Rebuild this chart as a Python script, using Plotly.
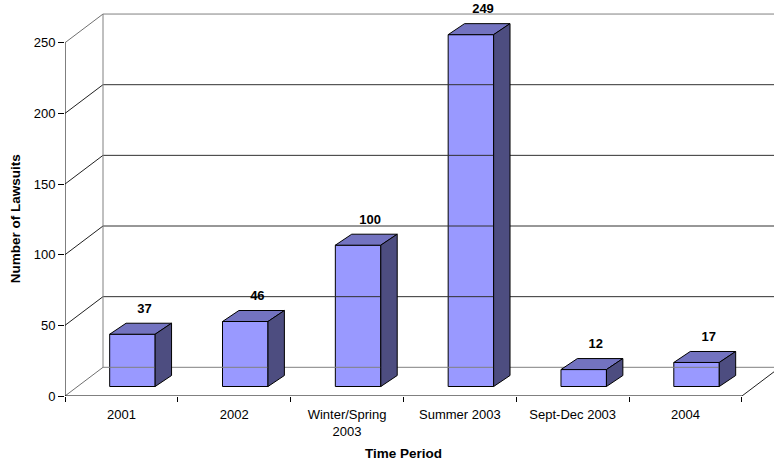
import plotly.graph_objects as go

# ---- data ----
categories = ["2001", "2002", "Winter/Spring<br>2003", "Summer 2003", "Sept-Dec 2003", "2004"]
lawsuits = [37, 46, 100, 249, 12, 17]
y_ticks = [0, 50, 100, 150, 200, 250]

# ---- oblique projection parameters (in data units) ----
WALL_DX, WALL_DY = 0.3368, 20.3      # depth of the whole chart box
FRONT_DX, FRONT_DY = 0.0975, 6.72    # offset of bar front face from front edge
BAR_DX, BAR_DY = 0.1454, 7.78        # bar depth
BAR_W = 0.403
N = len(categories)
YMAX = 250

FRONT = "#9999FF"
TOP = "#7373C0"
SIDE = "#4D4D80"
FONT = "Liberation Sans, Arial, sans-serif"

fig = go.Figure()

def line(xs, ys, color, width=1):
    fig.add_trace(go.Scatter(x=xs, y=ys, mode="lines", line=dict(color=color, width=width),
                             hoverinfo="skip", showlegend=False))

# back wall gridlines and left wall diagonals
for v in y_ticks:
    c = "#808080" if v in (0, YMAX) else "#303030"
    line([WALL_DX, N + WALL_DX], [v + WALL_DY, v + WALL_DY], c)
    line([0, WALL_DX], [v, v + WALL_DY], "#202020" if v not in (0, YMAX) else "#707070")
line([WALL_DX, WALL_DX], [WALL_DY, YMAX + WALL_DY], "#808080")
# floor right edge
line([N, N + WALL_DX], [0, WALL_DY], "#202020")

# bars: front faces
xc = [i + 0.5 + FRONT_DX for i in range(N)]
fig.add_trace(go.Bar(x=xc, y=lawsuits, base=[FRONT_DY] * N, width=BAR_W,
                     marker=dict(color=FRONT, line=dict(color="black", width=1)),
                     hoverinfo="skip", showlegend=False))

# bars: top and side faces
for i, v in enumerate(lawsuits):
    x0 = xc[i] - BAR_W / 2
    x1 = xc[i] + BAR_W / 2
    top = FRONT_DY + v
    fig.add_trace(go.Scatter(
        x=[x0, x1, x1 + BAR_DX, x0 + BAR_DX, x0],
        y=[top, top, top + BAR_DY, top + BAR_DY, top],
        mode="lines", fill="toself", fillcolor=TOP,
        line=dict(color="black", width=1), hoverinfo="skip", showlegend=False))
    fig.add_trace(go.Scatter(
        x=[x1, x1 + BAR_DX, x1 + BAR_DX, x1, x1],
        y=[FRONT_DY, FRONT_DY + BAR_DY, top + BAR_DY, top, FRONT_DY],
        mode="lines", fill="toself", fillcolor=SIDE,
        line=dict(color="black", width=1), hoverinfo="skip", showlegend=False))

# value labels
fig.add_trace(go.Scatter(
    x=[i + 0.5 + 0.205 for i in range(N)], y=[v + 24 for v in lawsuits],
    mode="text", text=[f"<b>{v}</b>" for v in lawsuits],
    textfont=dict(family=FONT, size=13, color="black"),
    cliponaxis=False, hoverinfo="skip", showlegend=False))

# front axis lines
line([0, 0], [0, YMAX], "black")
line([0, N], [0, 0], "black")

XR = [0, 6.284]
YR = [0, 276.7]

fig.update_layout(
    width=774, height=461,
    margin=dict(l=65, r=0, t=5, b=65),
    plot_bgcolor="white", paper_bgcolor="white",
    font=dict(family=FONT, size=13, color="black"),
    barmode="overlay",
    xaxis=dict(range=XR, tickvals=[i + 0.5 for i in range(N)], ticktext=categories,
               ticks="outside", ticklen=6, tickcolor="rgba(0,0,0,0)",
               showgrid=False, zeroline=False, showline=False,
               tickfont=dict(family=FONT, size=13)),
    xaxis2=dict(range=XR, overlaying="x", anchor="y", side="bottom",
                tickvals=list(range(N + 1)), ticktext=[""] * (N + 1),
                ticks="outside", ticklen=5, tickcolor="black",
                showgrid=False, zeroline=False, showline=False),
    yaxis=dict(range=YR, tickvals=y_ticks, ticks="outside", ticklen=6, tickcolor="black",
               showgrid=False, zeroline=False, showline=False,
               tickfont=dict(family=FONT, size=13)),
    annotations=[
        dict(text="<b>Time Period</b>", x=3, xref="x", y=0, yref="paper",
             yanchor="middle", yshift=-57, showarrow=False,
             font=dict(family=FONT, size=13.5)),
        dict(text="<b>Number of Lawsuits</b>", x=0, xref="paper", xanchor="center",
             xshift=-50, y=125, yref="y", textangle=-90, showarrow=False,
             font=dict(family=FONT, size=13.5)),
    ],
)

# dummy trace to activate xaxis2 ticks
fig.add_trace(go.Scatter(x=[0], y=[0], xaxis="x2", mode="markers",
                         marker=dict(opacity=0), hoverinfo="skip", showlegend=False))

fig.write_html("out.html")
